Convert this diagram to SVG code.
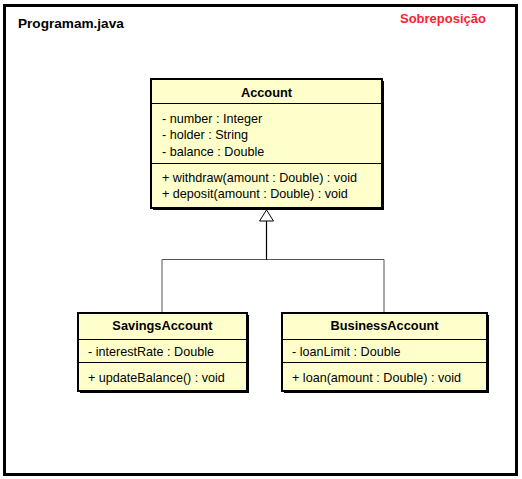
<svg xmlns="http://www.w3.org/2000/svg" width="522" height="479" viewBox="0 0 522 479">
<style>
text{font-family:"Liberation Sans",Arial,sans-serif;font-size:12.6px;fill:#000}
.t{font-weight:bold;font-size:12.8px}
.box{fill:#ffffcc;stroke:#000;stroke-width:2}
.sh{fill:#000}
.sep{stroke:#000;stroke-width:1}
.con{stroke:#555;stroke-width:1;fill:none}
</style>
<rect x="0" y="0" width="522" height="479" fill="#fff"/>
<rect x="4.5" y="5.5" width="512" height="469" fill="none" stroke="#000" stroke-width="3"/>
<text x="18" y="28" class="t" style="font-size:13.6px">Programam.java</text>
<text x="400" y="23" class="t" style="font-size:13px;fill:#ff2036">Sobreposição</text>
<g id="connectors">
<polyline class="con" points="162,312 162,259.5 384,259.5 384,312"/>
<line x1="266.5" y1="221" x2="266.5" y2="259.5" stroke="#000" stroke-width="1.2"/>
<polygon points="266.5,210 259.5,221 273.5,221" fill="#fff" stroke="#000" stroke-width="1"/>
</g>
<g id="Account">
<rect class="sh" x="153" y="81" width="231" height="129"/>
<rect class="box" x="151" y="79" width="231" height="129"/>
<line class="sep" x1="151" y1="103.5" x2="382" y2="103.5"/>
<line class="sep" x1="151" y1="163.5" x2="382" y2="163.5"/>
<text x="266.5" y="97" class="t" text-anchor="middle">Account</text>
<text x="162" y="123">- number : Integer</text>
<text x="162" y="139">- holder : String</text>
<text x="162" y="156">- balance : Double</text>
<text x="162" y="182">+ withdraw(amount : Double) : void</text>
<text x="162" y="198">+ deposit(amount : Double) : void</text>
</g>
<g id="SavingsAccount">
<rect class="sh" x="80" y="315" width="169" height="78"/>
<rect class="box" x="78" y="313" width="169" height="78"/>
<line class="sep" x1="78" y1="339.5" x2="247" y2="339.5"/>
<line class="sep" x1="78" y1="362.5" x2="247" y2="362.5"/>
<text x="162.5" y="330" class="t" text-anchor="middle">SavingsAccount</text>
<text x="88" y="356">- interestRate : Double</text>
<text x="88" y="382">+ updateBalance() : void</text>
</g>
<g id="BusinessAccount">
<rect class="sh" x="284" y="315" width="205" height="78"/>
<rect class="box" x="282" y="313" width="205" height="78"/>
<line class="sep" x1="282" y1="339.5" x2="487" y2="339.5"/>
<line class="sep" x1="282" y1="362.5" x2="487" y2="362.5"/>
<text x="384.5" y="330" class="t" text-anchor="middle">BusinessAccount</text>
<text x="292" y="356">- loanLimit : Double</text>
<text x="292" y="382">+ loan(amount : Double) : void</text>
</g>
</svg>
